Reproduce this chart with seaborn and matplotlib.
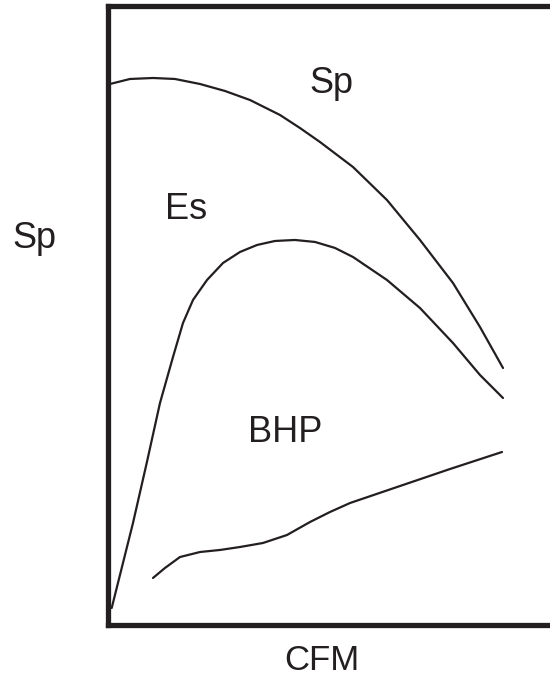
import pandas as pd
import seaborn as sns
import matplotlib.pyplot as plt


# Curvas do ventilador (unidades relativas 0-100)

sp_cfm = [0.56, 5.08, 10.28, 15.25, 20.90, 26.55, 32.20, 38.98, 43.50, 48.02,
          55.48, 63.16, 70.62, 78.08, 84.18, 89.38]
sp_val = [87.39, 88.20, 88.36, 88.20, 87.39, 86.26, 84.80, 82.38, 80.27, 78.01,
          73.97, 68.63, 62.17, 55.21, 48.10, 41.47]

es_cfm = [0.95, 5.76, 8.86, 11.86, 14.80, 17.06, 19.32, 22.49, 26.10, 29.94,
          33.79, 37.85, 42.37, 46.89, 51.41, 55.48, 63.16, 70.62, 78.08, 84.18, 89.38]
es_val = [2.67, 16.41, 26.11, 35.81, 43.25, 48.75, 52.47, 55.70, 58.45, 60.23,
          61.36, 62.01, 62.17, 61.85, 60.88, 59.42, 55.70, 51.17, 45.51, 40.34, 36.62]

bhp_cfm = [10.28, 12.99, 16.38, 20.90, 25.42, 29.94, 35.14, 40.56, 45.76, 50.28,
           54.80, 66.10, 77.40, 89.15]
bhp_val = [7.52, 9.14, 10.91, 11.72, 12.05, 12.53, 13.18, 14.47, 16.57, 18.19,
           19.64, 22.39, 25.14, 27.89]

curvas = {
    'Sp': (sp_cfm, sp_val),
    'Es': (es_cfm, es_val),
    'BHP': (bhp_cfm, bhp_val),
}

sns.set_style('white')
plt.rcParams['font.family'] = ['Liberation Sans', 'DejaVu Sans']

fig = plt.figure(figsize=(5.5, 6.77), dpi=100)
ax = fig.add_axes([107.5 / 550, 1 - 624.5 / 677, 1 - 107.5 / 550, 618.5 / 677])

for nome, (x, y) in curvas.items():
    df = pd.DataFrame({'CFM': x, 'valor': y})
    sns.lineplot(data=df, x='CFM', y='valor', sort=False, color='#231f20',
                 linewidth=1.6, ax=ax)

ax.set_xlim(0, 100)
ax.set_ylim(0, 100)
ax.set_xticks([])
ax.set_yticks([])
ax.set_xlabel('')
ax.set_ylabel('')

for lado in ['left', 'top', 'bottom']:
    ax.spines[lado].set_linewidth(3.8)
    ax.spines[lado].set_color('#231f20')
    ax.spines[lado].set_capstyle('projecting')
ax.spines['right'].set_visible(False)

# Rótulos das curvas
ax.text(50.5, 85.9, 'Sp', fontsize=26, ha='center', va='baseline', color='#231f20')
ax.text(17.85, 65.6, 'Es', fontsize=26, ha='center', va='baseline', color='#231f20')
ax.text(40.1, 29.5, 'BHP', fontsize=26, ha='center', va='baseline', color='#231f20')

# Eixos
fig.text(34 / 550, 1 - 248 / 677, 'Sp', fontsize=26, ha='center', va='baseline', color='#231f20')
fig.text(321.5 / 550, 1 - 670 / 677, 'CFM', fontsize=25, ha='center', va='baseline', color='#231f20')

fig.savefig('out.png', dpi=100)
